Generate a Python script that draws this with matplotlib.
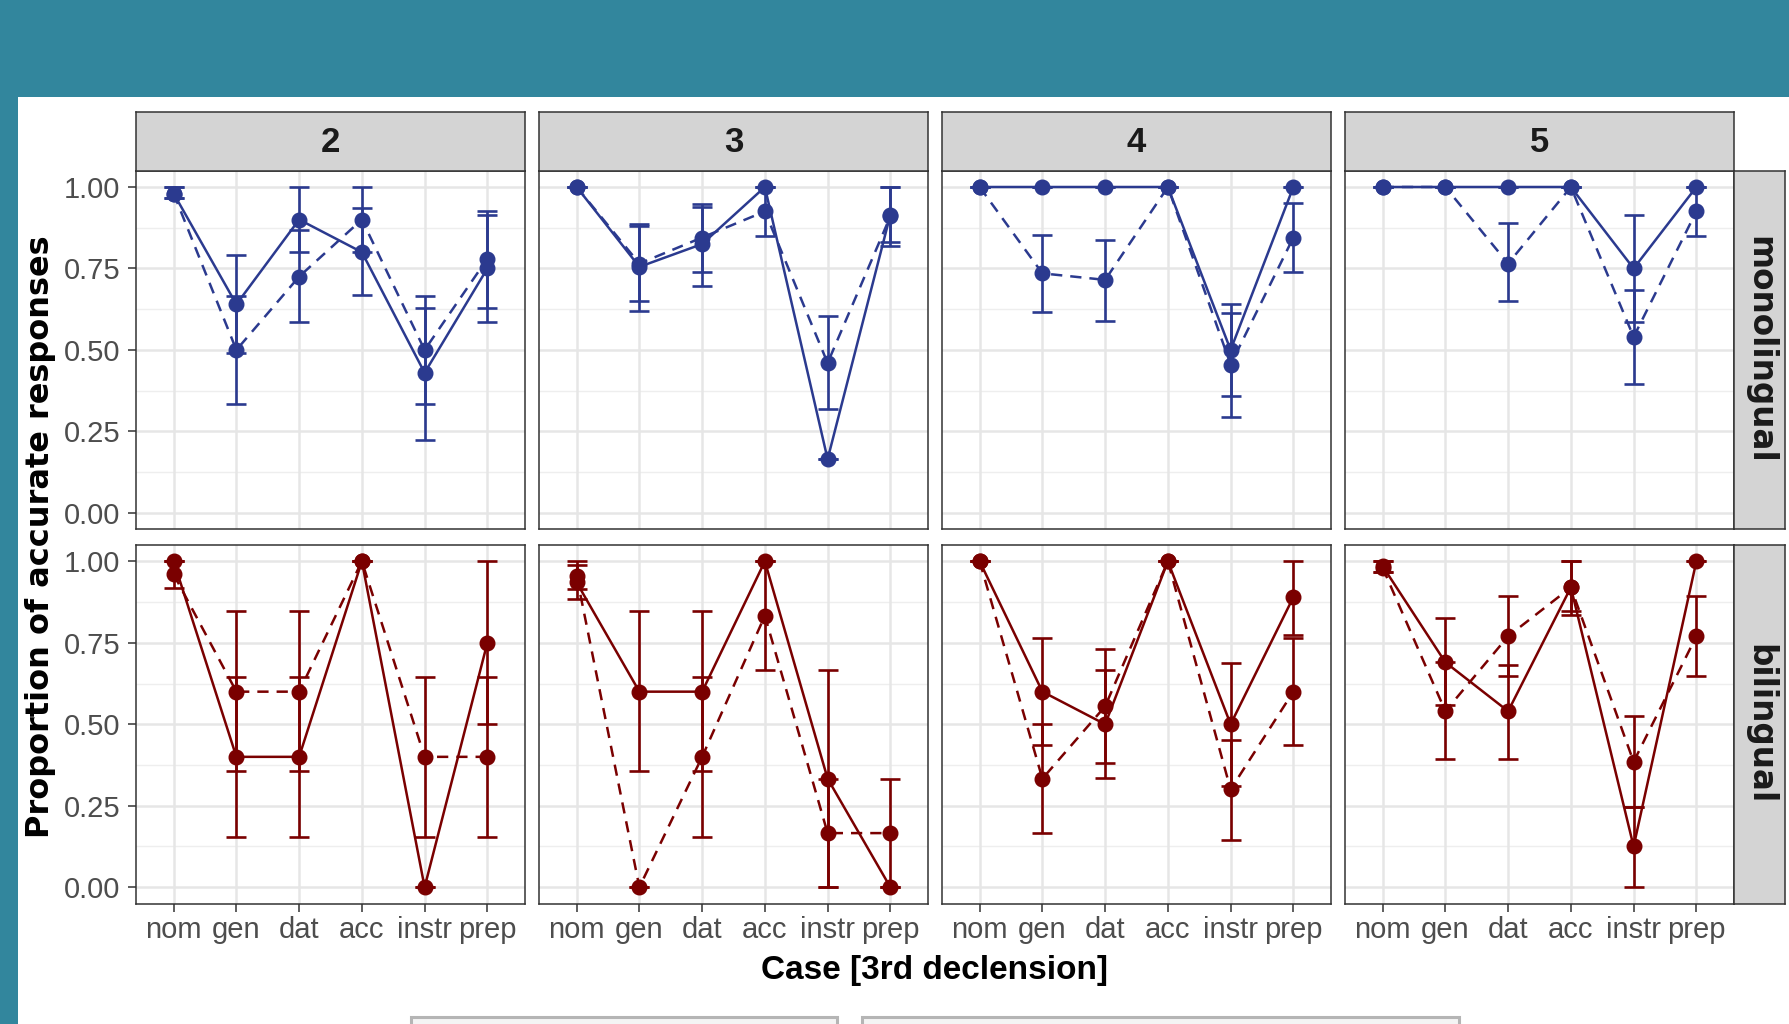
import matplotlib
matplotlib.use("Agg")
import matplotlib.pyplot as plt
from matplotlib.patches import Rectangle
import numpy as np

MAIN = ['Liberation Sans', 'DejaVu Sans']
WIDE = ['DejaVu Sans']
plt.rcParams['font.family'] = MAIN

# ---------------- data ----------------
cases = ["nom", "gen", "dat", "acc", "instr", "prep"]
columns = ["2", "3", "4", "5"]
rows = ["monolingual", "bilingual"]
y_ticks = [0.00, 0.25, 0.50, 0.75, 1.00]
y_tick_labels = ["0.00", "0.25", "0.50", "0.75", "1.00"]

# monolingual, solid line
mono_solid_mean = [[0.98, 0.64, 0.90, 0.80, 0.43, 0.75],
                   [1.00, 0.755, 0.825, 1.00, 0.165, 0.915],
                   [1.00, 1.00, 1.00, 1.00, 0.50, 1.00],
                   [1.00, 1.00, 1.00, 1.00, 0.75, 1.00]]
mono_solid_lo = [[0.965, 0.49, 0.80, 0.67, 0.225, 0.585],
                 [1.00, 0.62, 0.695, 1.00, 0.165, 0.83],
                 [1.00, 1.00, 1.00, 1.00, 0.36, 1.00],
                 [1.00, 1.00, 1.00, 1.00, 0.585, 1.00]]
mono_solid_hi = [[1.00, 0.79, 1.00, 0.935, 0.63, 0.915],
                 [1.00, 0.88, 0.94, 1.00, 0.165, 1.00],
                 [1.00, 1.00, 1.00, 1.00, 0.64, 1.00],
                 [1.00, 1.00, 1.00, 1.00, 0.915, 1.00]]

# monolingual, dashed line
mono_dashed_mean = [[0.98, 0.50, 0.725, 0.90, 0.50, 0.78],
                    [1.00, 0.765, 0.845, 0.925, 0.46, 0.91],
                    [1.00, 0.735, 0.715, 1.00, 0.455, 0.845],
                    [1.00, 1.00, 0.765, 1.00, 0.54, 0.925]]
mono_dashed_lo = [[0.965, 0.333, 0.585, 0.80, 0.333, 0.63],
                  [1.00, 0.65, 0.74, 0.85, 0.32, 0.82],
                  [1.00, 0.615, 0.59, 1.00, 0.295, 0.74],
                  [1.00, 1.00, 0.65, 1.00, 0.395, 0.85]]
mono_dashed_hi = [[1.00, 0.667, 0.867, 1.00, 0.667, 0.925],
                  [1.00, 0.887, 0.947, 1.00, 0.603, 1.00],
                  [1.00, 0.852, 0.838, 1.00, 0.613, 0.95],
                  [1.00, 1.00, 0.89, 1.00, 0.683, 1.00]]

# bilingual, solid line
bil_solid_mean = [[1.00, 0.40, 0.40, 1.00, 0.00, 0.75],
                  [0.935, 0.60, 0.60, 1.00, 0.333, 0.00],
                  [1.00, 0.60, 0.50, 1.00, 0.50, 0.89],
                  [0.985, 0.69, 0.54, 0.92, 0.125, 1.00]]
bil_solid_lo = [[1.00, 0.155, 0.155, 1.00, 0.00, 0.50],
                [0.885, 0.358, 0.358, 1.00, 0.00, 0.00],
                [1.00, 0.437, 0.334, 1.00, 0.31, 0.775],
                [0.966, 0.56, 0.394, 0.846, 0.00, 1.00]]
bil_solid_hi = [[1.00, 0.646, 0.646, 1.00, 0.00, 1.00],
                [0.99, 0.846, 0.846, 1.00, 0.665, 0.00],
                [1.00, 0.764, 0.667, 1.00, 0.688, 1.00],
                [1.00, 0.825, 0.682, 1.00, 0.247, 1.00]]

# bilingual, dashed line
bil_dashed_mean = [[0.96, 0.60, 0.60, 1.00, 0.40, 0.40],
                   [0.955, 0.00, 0.40, 0.833, 0.166, 0.166],
                   [1.00, 0.333, 0.555, 1.00, 0.30, 0.60],
                   [0.98, 0.54, 0.77, 0.92, 0.385, 0.77]]
bil_dashed_lo = [[0.917, 0.356, 0.356, 1.00, 0.155, 0.155],
                 [0.915, 0.00, 0.155, 0.667, 0.00, 0.00],
                 [1.00, 0.166, 0.38, 1.00, 0.145, 0.437],
                 [0.966, 0.394, 0.647, 0.835, 0.247, 0.647]]
bil_dashed_hi = [[1.00, 0.846, 0.846, 1.00, 0.646, 0.646],
                 [1.00, 0.00, 0.646, 1.00, 0.333, 0.333],
                 [1.00, 0.501, 0.731, 1.00, 0.452, 0.765],
                 [1.00, 0.69, 0.892, 1.00, 0.525, 0.892]]

row_colors = ["#2B3A8F", "#7A0000"]
x_title = "Case [3rd declension]"
y_title = "Proportion of accurate responses"

# ---------------- layout ----------------
W, H = 1790, 1024
fig = plt.figure(figsize=(W / 100, H / 100), dpi=100)
fig.patch.set_facecolor("white")

def fx(x):
    return x / W

def fy(y):
    return 1 - y / H

teal = "#32869D"
fig.add_artist(Rectangle((0, fy(97)), 1, 97 / H, transform=fig.transFigure,
                         facecolor=teal, edgecolor="none", zorder=-10))
fig.add_artist(Rectangle((0, 0), fx(18), 1, transform=fig.transFigure,
                         facecolor=teal, edgecolor="none", zorder=-10))

panel_left0 = 136
panel_pitch = 403
panel_w = 389
row_tops = [170.7, 545.0]
panel_h = 358.5
strip_top = 111.7
strip_right_w = 51.5

strip_fill = "#D4D4D4"
border = "#333333"

data_sets = [
    [(mono_solid_mean, mono_solid_lo, mono_solid_hi, "-"),
     (mono_dashed_mean, mono_dashed_lo, mono_dashed_hi, "--")],
    [(bil_solid_mean, bil_solid_lo, bil_solid_hi, "-"),
     (bil_dashed_mean, bil_dashed_lo, bil_dashed_hi, "--")],
]

x = np.arange(1, len(cases) + 1)

for r in range(2):
    for c in range(4):
        left = panel_left0 + c * panel_pitch
        top = row_tops[r]
        ax = fig.add_axes([fx(left), fy(top + panel_h), panel_w / W, panel_h / H])
        ax.set_xlim(0.4, 6.6)
        ax.set_ylim(-0.05, 1.05)
        ax.set_facecolor("white")
        # grid
        for yv in [0.125, 0.375, 0.625, 0.875]:
            ax.axhline(yv, color="#EEEEEE", lw=1.0, zorder=0)
        for yv in y_ticks:
            ax.axhline(yv, color="#E6E6E6", lw=1.8, zorder=0)
        for xv in x:
            ax.axvline(xv, color="#E6E6E6", lw=1.8, zorder=0)
        for s in ax.spines.values():
            s.set_color(border)
            s.set_linewidth(1.1)
        col = row_colors[r]
        for mean, lo, hi, ls in data_sets[r]:
            m = np.array(mean[c])
            l = np.array(lo[c])
            h = np.array(hi[c])
            ax.errorbar(x, m, yerr=[m - l, h - m], fmt="none", ecolor=col,
                        elinewidth=1.9, capsize=7.0, capthick=1.9, zorder=3)
            if ls == "--":
                ax.plot(x, m, color=col, lw=1.8, dashes=(4.5, 3.2), zorder=4)
            else:
                ax.plot(x, m, color=col, lw=1.8, zorder=4)
            ax.plot(x, m, "o", color=col, ms=10.5, zorder=5)
        ax.set_xticks(x)
        ax.set_yticks(y_ticks)
        ax.tick_params(axis="both", colors=border, length=5.8, width=1.1,
                       labelcolor="#4D4D4D", labelsize=21)
        ax.tick_params(axis="y", pad=5.5)
        ax.tick_params(axis="x", pad=3)
        if c == 0:
            ax.set_yticklabels(y_tick_labels)
        else:
            ax.tick_params(axis="y", length=0, labelleft=False)
        if r == 1:
            ax.set_xticklabels(cases)
        else:
            ax.tick_params(axis="x", length=0, labelbottom=False)

        # top strips
        if r == 0:
            sax = fig.add_axes([fx(left), fy(top), panel_w / W, (top - strip_top) / H])
            sax.set_facecolor(strip_fill)
            sax.set_xticks([])
            sax.set_yticks([])
            for s in sax.spines.values():
                s.set_color(border)
                s.set_linewidth(1.1)
            sax.text(0.5, 0.47, columns[c], ha="center", va="center",
                     fontsize=25, fontweight="bold", color="#1A1A1A",
                     transform=sax.transAxes)
        # right strips
        if c == 3:
            rax = fig.add_axes([fx(left + panel_w), fy(top + panel_h),
                                strip_right_w / W, panel_h / H])
            rax.set_facecolor(strip_fill)
            rax.set_xticks([])
            rax.set_yticks([])
            for s in rax.spines.values():
                s.set_color(border)
                s.set_linewidth(1.1)
            rax.text(0.5, 0.5, rows[r], ha="center", va="center", rotation=270,
                     fontsize=23.5, fontweight="bold", color="#1A1A1A",
                     family=WIDE, transform=rax.transAxes)

fig.text(fx(41), fy(537), y_title, rotation=90, ha="center", va="center",
         fontsize=23, fontweight="bold", color="black", family=WIDE)
fig.text(fx(935), fy(970), x_title, ha="center", va="center",
         fontsize=24, fontweight="bold", color="black")

# legend boxes (cut off at the bottom)
for x0, x1 in [(411, 837), (862, 1459)]:
    fig.add_artist(Rectangle((fx(x0), fy(1030)), (x1 - x0) / W, 13 / H,
                             transform=fig.transFigure, facecolor="#F4F4F4",
                             edgecolor="#B5B5B5", lw=2.2))

fig.savefig("out.png", dpi=100)
